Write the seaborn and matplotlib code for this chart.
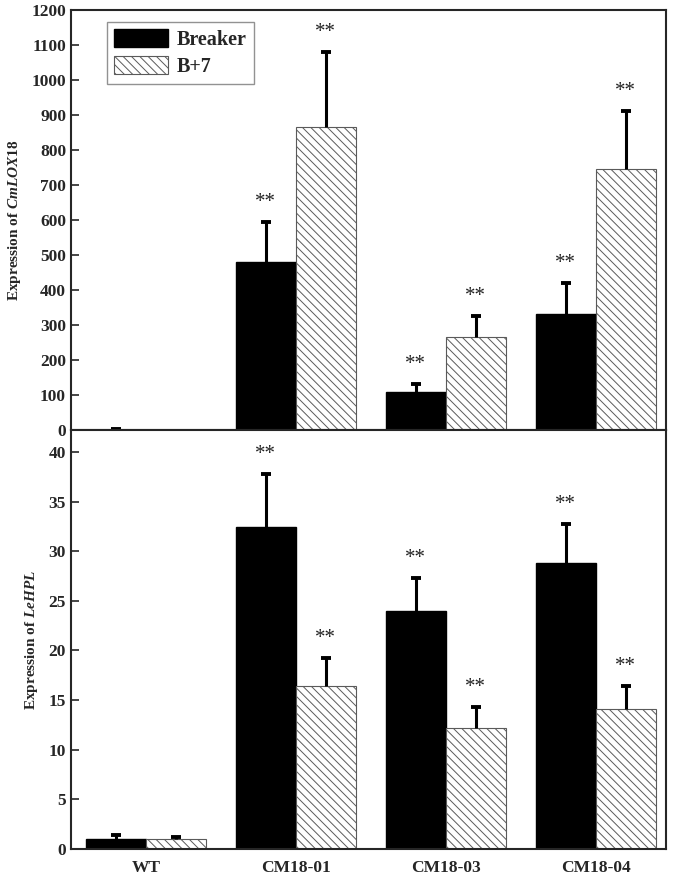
import numpy as np
import pandas as pd
import matplotlib
matplotlib.use("Agg")
import matplotlib.pyplot as plt
from matplotlib.patches import Patch
import seaborn as sns

lines = ["WT", "CM18-01", "CM18-03", "CM18-04"]
stages = ["Breaker", "B+7"]

# CmLOX18 (upper panel)
lox_breaker = [1, 481, 109, 331]
lox_breaker_err = [3, 114, 24, 90]
lox_b7 = [1, 867, 267, 746]
lox_b7_err = [0, 212, 59, 166]

# LeHPL (lower panel)
hpl_breaker = [1.0, 32.4, 24.0, 28.8]
hpl_breaker_err = [0.4, 5.4, 3.3, 3.9]
hpl_b7 = [1.0, 16.4, 12.15, 14.1]
hpl_b7_err = [0.25, 2.8, 2.2, 2.3]

stars = ["", "**", "**", "**"]

HATCH_GREY = "#5a5a5a"
HATCH = "\\\\\\\\"

sns.set_style("ticks")
plt.rcParams["font.family"] = ["Liberation Serif", "DejaVu Serif"]
plt.rcParams["font.weight"] = "bold"
plt.rcParams["mathtext.fontset"] = "custom"
plt.rcParams["mathtext.it"] = "Liberation Serif:italic:bold"
plt.rcParams["mathtext.rm"] = "Liberation Serif:bold"
plt.rcParams["hatch.color"] = HATCH_GREY
plt.rcParams["hatch.linewidth"] = 0.7


def make_frame(breaker, b7):
    return pd.DataFrame({
        "line": lines * 2,
        "stage": ["Breaker"] * len(lines) + ["B+7"] * len(lines),
        "value": list(breaker) + list(b7),
    })


def draw_panel(ax, breaker, breaker_err, b7, b7_err, ylabel, ymax, yticks):
    df = make_frame(breaker, b7)
    sns.barplot(data=df, x="line", y="value", hue="stage", hue_order=stages,
                palette=["black", "white"], width=0.8, errorbar=None,
                saturation=1, ax=ax, legend=False)
    for k, (cont, errs, vals) in enumerate(zip(ax.containers, [breaker_err, b7_err], [breaker, b7])):
        xs = []
        for p in cont.patches:
            xs.append(p.get_x() + p.get_width() / 2)
            if k == 1:
                p.set_hatch(HATCH)
                p.set_edgecolor(HATCH_GREY)
                p.set_linewidth(0.8)
            else:
                p.set_edgecolor("black")
        xs = np.array(xs)
        tops = np.array(vals) + np.array(errs)
        # one-sided error bars: stem from bar top up, cap on top only
        has_err = np.array(errs) > 0
        ax.vlines(xs[has_err], np.array(vals)[has_err], tops[has_err],
                  colors="black", linewidth=2.2, zorder=3)
        ax.plot(xs[has_err], tops[has_err], linestyle="none", marker="_",
                markersize=7.5, markeredgewidth=2.8, color="black", zorder=3)
        for x, t, s in zip(xs, tops, stars):
            if s:
                ax.annotate(s, (x, t), xytext=(0, 14), textcoords="offset points",
                            ha="center", va="center", fontsize=15, fontweight="normal",
                            color="#222222")
    ax.set_xlim(-0.5, 3.47)
    ax.set_ylim(0, ymax)
    ax.set_yticks(yticks)
    ax.set_ylabel(ylabel, fontsize=11, fontweight="bold", labelpad=6)
    ax.set_xlabel("")
    ax.tick_params(axis="y", direction="in", length=6, width=1.2, labelsize=12.5)
    ax.tick_params(axis="x", length=0, labelsize=12.5, pad=8)
    for lab in ax.get_yticklabels() + ax.get_xticklabels():
        lab.set_fontweight("bold")
    for sp in ax.spines.values():
        sp.set_visible(True)
        sp.set_linewidth(1.5)


fig = plt.figure(figsize=(6.75, 8.76), dpi=100)
ax1 = fig.add_axes([0.105, 0.509, 0.882, 0.4796])
ax2 = fig.add_axes([0.105, 0.0308, 0.882, 0.4782])

draw_panel(ax1, lox_breaker, lox_breaker_err, lox_b7, lox_b7_err,
           "Expression of $CmLOX18$", 1200, range(0, 1201, 100))
ax1.set_xticklabels([])

draw_panel(ax2, hpl_breaker, hpl_breaker_err, hpl_b7, hpl_b7_err,
           "Expression of $LeHPL$", 42.2, range(0, 41, 5))

handles = [Patch(facecolor="black", edgecolor="black"),
           Patch(facecolor="white", edgecolor=HATCH_GREY, hatch=HATCH, linewidth=0.8)]
leg = ax1.legend(handles, stages, loc="upper left", bbox_to_anchor=(0.06, 0.971),
                 borderaxespad=0, frameon=True, fancybox=False, edgecolor="#777777",
                 handlelength=2.7, handleheight=1.0, prop={"weight": "bold", "size": 14.5},
                 borderpad=0.35, labelspacing=0.3, handletextpad=0.45)
leg.get_frame().set_linewidth(1.0)

fig.savefig("out.png", dpi=100)
